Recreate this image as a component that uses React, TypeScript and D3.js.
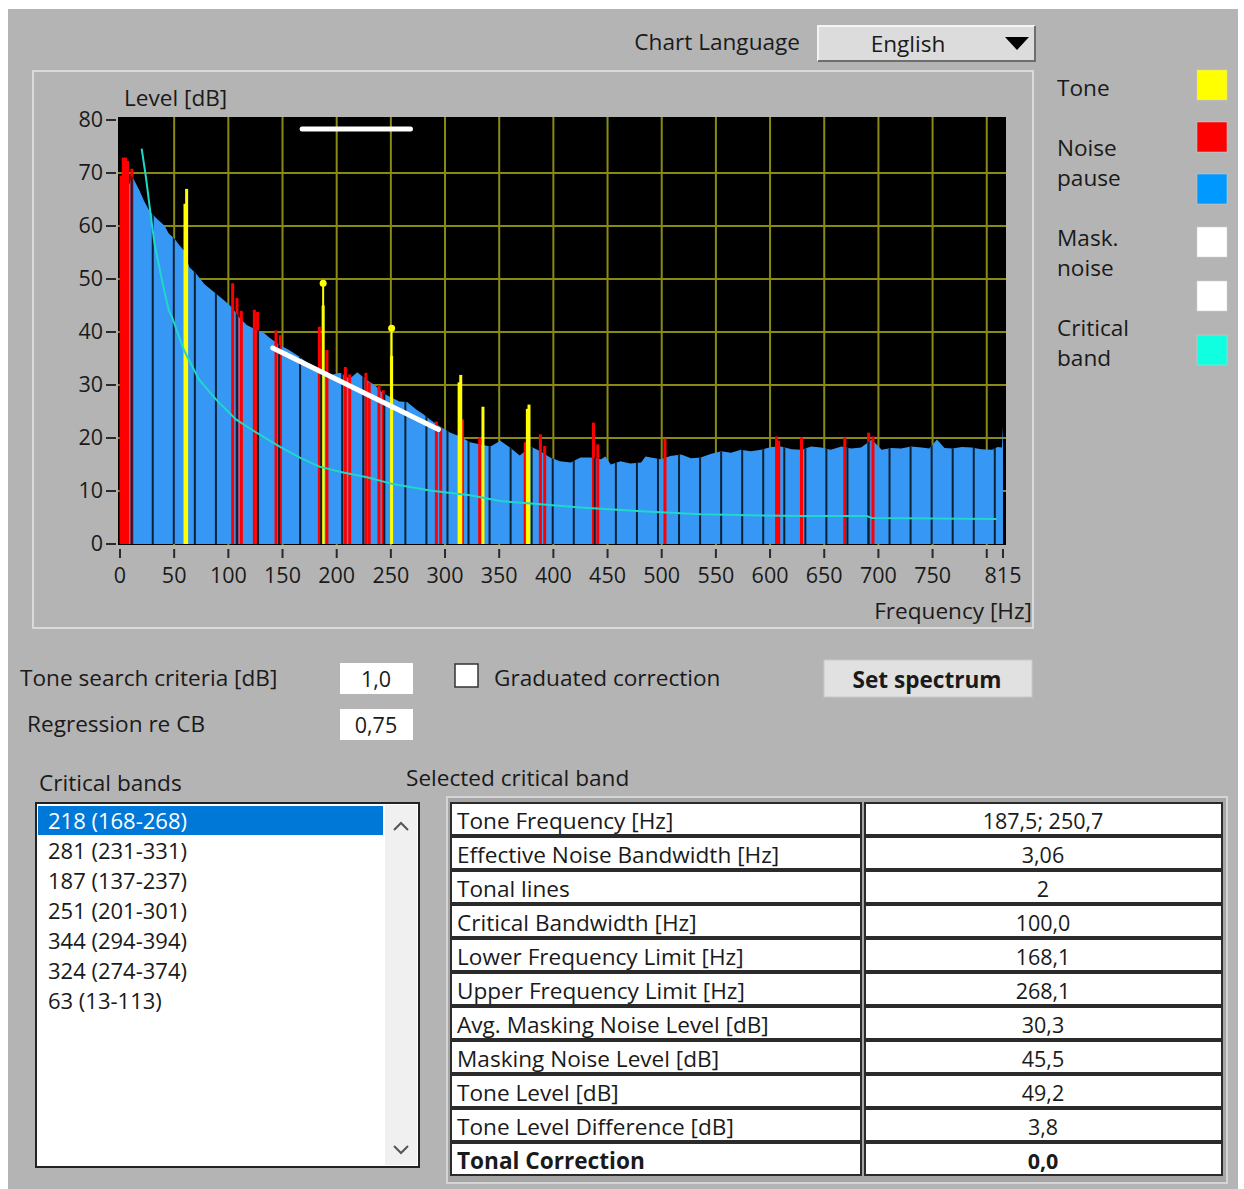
import React from "react";
import * as d3 from "d3";

// axis ticks
const levelTicks = [0, 10, 20, 30, 40, 50, 60, 70, 80];
const freqTicks = [0, 50, 100, 150, 200, 250, 300, 350, 400, 450, 500, 550, 600, 650, 700, 750, 800, 815];
const freqTickLabels = ["0", "50", "100", "150", "200", "250", "300", "350", "400", "450", "500", "550", "600", "650", "700", "750", "", "815"];
const gridFreqs = [50, 100, 150, 200, 250, 300, 350, 400, 450, 500, 550, 600, 650, 700, 750, 800];
const gridLevels = [10, 20, 30, 40, 50, 60, 70];

// spectrum envelope (blue)
const spectrumFreq = [0, 11, 18, 22, 27, 31, 36, 41, 45, 50, 55, 59, 64, 70, 78, 87, 96, 103, 110, 117, 122, 133, 138, 147, 156, 166, 175, 184, 193, 203, 212, 219, 228, 235, 242, 249, 258, 265, 274, 280, 286, 295, 305, 314, 323, 332, 342, 351, 360, 369, 379, 388, 397, 406, 416, 425, 434, 444, 448, 453, 462, 471, 481, 485, 499, 508, 518, 527, 536, 545, 555, 564, 573, 582, 592, 601, 610, 620, 629, 638, 647, 656, 666, 675, 684, 694, 703, 712, 721, 730, 740, 747, 754, 761, 768, 777, 786, 795, 805, 810, 814, 815];
const spectrumLevel = [62.5, 69.5, 66.7, 64.8, 62.9, 62.0, 61.0, 60.1, 58.6, 57.7, 56.3, 55.4, 52.2, 51.1, 49.0, 47.5, 46.0, 44.7, 42.8, 41.3, 40.8, 39.8, 38.9, 37.6, 36.6, 35.3, 33.8, 32.5, 31.8, 32.3, 31.2, 32.4, 30.9, 30.0, 28.6, 27.8, 26.9, 26.8, 25.3, 24.5, 23.5, 22.2, 21.0, 20.3, 19.2, 18.8, 18.4, 19.5, 18.2, 16.7, 18.4, 17.5, 16.3, 15.6, 15.4, 16.3, 16.3, 16.0, 16.5, 15.0, 15.6, 15.2, 15.4, 16.5, 16.0, 16.6, 16.9, 16.2, 16.3, 17.0, 17.5, 17.2, 17.8, 17.5, 17.8, 18.3, 18.4, 17.9, 17.8, 18.4, 18.2, 17.8, 18.4, 18.0, 18.2, 19.7, 17.8, 18.1, 18.0, 18.4, 18.2, 18.0, 19.7, 18.1, 18.0, 18.3, 18.2, 17.9, 17.8, 18.3, 18.2, 22.2];

// noise pause lines (red)
const noisePauseFreq = [1, 3, 5, 7, 11, 104, 108, 112, 124, 127, 144, 148, 184, 191, 208, 212, 227, 230, 239, 243, 292, 296, 316, 332, 374, 388, 392, 437, 441, 503, 606, 608, 629, 669, 691, 695];
const noisePauseLevel = [69.5, 72.9, 72.9, 72.3, 70.8, 49.2, 46.4, 44.0, 44.2, 43.8, 40.3, 39.4, 41.0, 36.6, 33.4, 32.0, 32.3, 30.5, 30.0, 29.0, 23.1, 22.0, 23.5, 20.1, 19.2, 20.7, 18.5, 22.9, 18.8, 19.9, 20.3, 19.5, 20.1, 20.1, 21.0, 20.3];

// tone lines (yellow)
const toneFreq = [60, 61.5, 187.5, 250.7, 313, 314.5, 335, 376, 377.5];
const toneLevel = [64.2, 67.0, 45.0, 35.5, 30.5, 31.9, 25.9, 25.5, 26.3];
const selectedToneFreq = [187.5, 250.7];
const selectedToneLevel = [49.2, 40.7];

// critical band curve (cyan)
const cbFreq = [20, 24, 29, 32, 36, 39, 45, 48, 59, 73, 89, 107, 126, 147, 166, 184, 206, 228, 252, 286, 323, 351, 388, 425, 481, 536, 592, 629, 689, 694, 809];
const cbLevel = [74.6, 69.1, 61.0, 56.5, 52.5, 49.5, 44.1, 42.8, 36.6, 31.0, 27.2, 23.5, 21.0, 18.4, 16.3, 14.6, 13.5, 12.6, 11.3, 10.1, 9.2, 8.1, 7.5, 6.9, 6.2, 5.6, 5.4, 5.3, 5.3, 4.9, 4.7];

// masking noise regression (white) and selected band limits
const maskFreq = [141, 294];
const maskLevel = [37.0, 21.6];
const bandLimits = [168.1, 268.1];
const bandMarkerLevel = 78.3;

const legendLabels = [["Tone"], ["Noise", "pause"], ["Mask.", "noise"], ["Critical", "band"]];
const legendColors = ["#ffff00", "#ff0000", "#0099ff", "#ffffff", "#ffffff", "#0fffe0"];

const criticalBands = ["218 (168-268)", "281 (231-331)", "187 (137-237)", "251 (201-301)", "344 (294-394)", "324 (274-374)", "63 (13-113)"];
const tableLabels = ["Tone Frequency [Hz]", "Effective Noise Bandwidth [Hz]", "Tonal lines", "Critical Bandwidth [Hz]", "Lower Frequency Limit [Hz]", "Upper Frequency Limit [Hz]", "Avg. Masking Noise Level [dB]", "Masking Noise Level [dB]", "Tone Level [dB]", "Tone Level Difference [dB]", "Tonal Correction"];
const tableValues = ["187,5; 250,7", "3,06", "2", "100,0", "168,1", "268,1", "30,3", "45,5", "49,2", "3,8", "0,0"];

const FONT = "'Segoe UI', 'Open Sans', sans-serif";
const FS = 22.6; // words
const FN = 21.5; // numbers

export default function App() {
  const x = d3.scaleLinear().domain([0, 815]).range([120, 1003]);
  const y = d3.scaleLinear().domain([0, 80]).range([544, 120]);
  const plot = { x0: 118, x1: 1006, y0: 117, y1: 545 };

  const spec = spectrumFreq.map((f, i) => [f, spectrumLevel[i]] as [number, number]);
  const area = d3
    .area<[number, number]>()
    .x((d) => x(d[0]))
    .y0(y(0))
    .y1((d) => y(d[1]));
  const areaPath = area([[0, spectrumLevel[0]], ...spec, [815, 0]] as any) || "";
  const cb = cbFreq.map((f, i) => [f, cbLevel[i]] as [number, number]);
  const line = d3
    .line<[number, number]>()
    .x((d) => x(d[0]))
    .y((d) => y(d[1]));
  const dividers = d3.range(10.8, 815, 19.43);

  const txt = (props: any, s: string, size: number = FS) => (
    <text fontFamily={FONT} fontSize={size} fill="#1a1a1a" {...props}>
      {s}
    </text>
  );

  return (
    <svg width={1244} height={1189} style={{ position: "absolute", left: 0, top: 0 }}>
      <rect x={0} y={0} width={1244} height={1189} fill="#ffffff" />
      <rect x={8} y={9} width={1230} height={1180} fill="#b4b4b4" />

      {/* header */}
      {txt({ x: 800, y: 50, textAnchor: "end" }, "Chart Language")}
      <rect x={818} y={26} width={217} height={35} fill="#dcdcdc" />
      <path d="M818,61 V26 H1035" fill="none" stroke="#f4f4f4" strokeWidth={2} />
      <path d="M818,61 H1035 V26" fill="none" stroke="#6e6e6e" strokeWidth={2} />
      {txt({ x: 908, y: 52, textAnchor: "middle" }, "English")}
      <polygon points="1005,37 1029,37 1017,50" fill="#000" />

      {/* chart panel */}
      <rect x={33} y={71} width={1000} height={557} fill="none" stroke="#dadada" strokeWidth={2} />
      <rect x={plot.x0} y={plot.y0} width={plot.x1 - plot.x0} height={plot.y1 - plot.y0} fill="#000" />
      <clipPath id="plotclip">
        <rect x={plot.x0} y={plot.y0} width={plot.x1 - plot.x0} height={plot.y1 - plot.y0} />
      </clipPath>
      <clipPath id="specclip">
        <path d={areaPath} />
      </clipPath>
      <g clipPath="url(#plotclip)">
        {gridFreqs.map((f) => (
          <line key={"gf" + f} x1={x(f)} x2={x(f)} y1={plot.y0} y2={plot.y1} stroke="#8a8a12" strokeWidth={2} />
        ))}
        {gridLevels.map((l) => (
          <line key={"gl" + l} x1={plot.x0} x2={plot.x1} y1={y(l)} y2={y(l)} stroke="#8a8a12" strokeWidth={2} />
        ))}
        <path d={areaPath} fill="#3797f4" />
        {noisePauseFreq.map((f, i) => (
          <rect key={"np" + i} x={x(f) - 1.5} width={3} y={y(noisePauseLevel[i])} height={y(0) - y(noisePauseLevel[i])} fill="#ff0000" />
        ))}
        {selectedToneFreq.map((f, i) => (
          <g key={"st" + i}>
            <line x1={x(f)} x2={x(f)} y1={y(0)} y2={y(selectedToneLevel[i])} stroke="#ffff00" strokeWidth={2} />
            <circle cx={x(f)} cy={y(selectedToneLevel[i])} r={3.5} fill="#ffff00" />
          </g>
        ))}
        {toneFreq.map((f, i) => (
          <rect key={"tn" + i} x={x(f) - 1.5} width={3} y={y(toneLevel[i])} height={y(0) - y(toneLevel[i])} fill="#ffff00" />
        ))}
        <g clipPath="url(#specclip)">
          {dividers.map((f, i) => (
            <line key={"dv" + i} x1={x(f)} x2={x(f)} y1={plot.y0} y2={plot.y1} stroke="#0b2235" strokeWidth={2} />
          ))}
        </g>
        <path d={line(cb) || ""} fill="none" stroke="#1fd8c8" strokeWidth={2} />
        <line x1={x(maskFreq[0])} y1={y(maskLevel[0])} x2={x(maskFreq[1])} y2={y(maskLevel[1])} stroke="#ffffff" strokeWidth={5} strokeLinecap="round" />
        <line x1={x(bandLimits[0])} y1={y(bandMarkerLevel)} x2={x(bandLimits[1])} y2={y(bandMarkerLevel)} stroke="#ffffff" strokeWidth={5} strokeLinecap="round" />
      </g>

      {/* axes */}
      {levelTicks.map((l) => (
        <g key={"yt" + l}>
          <line x1={106} x2={116} y1={y(l)} y2={y(l)} stroke="#2a2a2a" strokeWidth={2} />
          {txt({ x: 103, y: y(l) + 7, textAnchor: "end" }, String(l), FN)}
        </g>
      ))}
      {freqTicks.map((f, i) => (
        <g key={"xt" + f}>
          <line x1={x(f)} x2={x(f)} y1={549} y2={558} stroke="#2a2a2a" strokeWidth={2} />
          {txt({ x: x(f), y: 583, textAnchor: "middle" }, freqTickLabels[i], FN)}
        </g>
      ))}
      {txt({ x: 124, y: 106 }, "Level [dB]")}
      {txt({ x: 1032, y: 619, textAnchor: "end" }, "Frequency [Hz]")}

      {/* legend */}
      {txt({ x: 1057, y: 96 }, legendLabels[0][0])}
      {txt({ x: 1057, y: 156 }, legendLabels[1][0])}
      {txt({ x: 1057, y: 186 }, legendLabels[1][1])}
      {txt({ x: 1057, y: 246 }, legendLabels[2][0])}
      {txt({ x: 1057, y: 276 }, legendLabels[2][1])}
      {txt({ x: 1057, y: 336 }, legendLabels[3][0])}
      {txt({ x: 1057, y: 366 }, legendLabels[3][1])}
      {legendColors.map((c, i) => (
        <rect key={"lg" + i} x={1197} y={[70, 122, 174, 227, 281, 335][i]} width={30} height={30} fill={c} stroke="#d0d0d0" strokeWidth={0.5} />
      ))}

      {/* controls */}
      {txt({ x: 20, y: 686 }, "Tone search criteria [dB]")}
      <rect x={340} y={663} width={73} height={31} fill="#fff" />
      {txt({ x: 376, y: 687, textAnchor: "middle" }, "1,0", FN)}
      <rect x={455} y={664} width={23} height={23} fill="#fff" stroke="#333" strokeWidth={1.5} />
      {txt({ x: 494, y: 686 }, "Graduated correction")}
      <rect x={824} y={660} width={208} height={37} fill="#e1e1e1" stroke="#c8c8c8" strokeWidth={1} />
      {txt({ x: 927, y: 688, textAnchor: "middle", fontWeight: "bold" }, "Set spectrum")}
      {txt({ x: 27, y: 732 }, "Regression re CB")}
      <rect x={340} y={709} width={73} height={31} fill="#fff" />
      {txt({ x: 376, y: 733, textAnchor: "middle" }, "0,75", FN)}

      {/* critical bands list */}
      {txt({ x: 39, y: 791 }, "Critical bands")}
      {txt({ x: 406, y: 786 }, "Selected critical band")}
      <rect x={36} y={803} width={383} height={364} fill="#fff" stroke="#222" strokeWidth={2} />
      <rect x={385} y={805} width={32} height={360} fill="#f0f0f0" />
      <polyline points="394,830 401,823 408,830" fill="none" stroke="#555" strokeWidth={2} />
      <polyline points="394,1146 401,1153 408,1146" fill="none" stroke="#555" strokeWidth={2} />
      <rect x={38} y={806} width={345} height={29} fill="#0078d7" />
      {criticalBands.map((s, i) =>
        txt({ key: "cb" + i, x: 48, y: 829 + i * 30, fill: i === 0 ? "#ffffff" : "#1a1a1a" }, s, 22)
      )}

      {/* selected band table */}
      <rect x={447} y={797} width={780} height={386} fill="#a6a6a6" stroke="#d4d4d4" strokeWidth={2} />
      {tableLabels.map((s, i) => (
        <g key={"tb" + i}>
          <rect x={451} y={803 + i * 34} width={410} height={32} fill="#fff" stroke="#2b2b2b" strokeWidth={2} />
          <rect x={865} y={803 + i * 34} width={357} height={32} fill="#fff" stroke="#2b2b2b" strokeWidth={2} />
          {txt({ x: 457, y: 829 + i * 34, fontWeight: i === tableLabels.length - 1 ? "bold" : "normal" }, s)}
          {txt({ x: 1043, y: 829 + i * 34, textAnchor: "middle", fontWeight: i === tableLabels.length - 1 ? "bold" : "normal" }, tableValues[i], FN)}
        </g>
      ))}
    </svg>
  );
}
